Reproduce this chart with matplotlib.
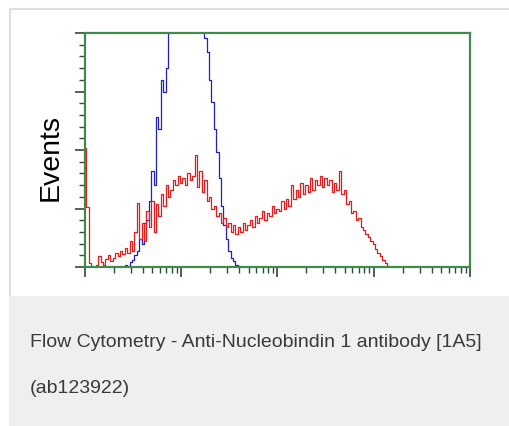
import numpy as np
import matplotlib
matplotlib.use("Agg")
import matplotlib.pyplot as plt
from matplotlib.patches import Rectangle
from matplotlib.ticker import LogLocator, MultipleLocator, NullFormatter

### data
# channels are 0.025 decade wide; *_first is log10 of the first channel centre
channel_width = 0.025

red_first = 0.0
red_events = [102, 51, 3, 1, 0, 2, 9, 4, 2, 7, 10, 5,
              8, 12, 9, 14, 11, 16, 12, 22, 14, 30, 55, 24,
              38, 22, 48, 34, 56, 30, 54, 44, 62, 52, 70, 60,
              66, 74, 70, 78, 72, 76, 70, 80, 74, 78, 96, 68,
              82, 64, 74, 56, 60, 50, 52, 44, 46, 38, 42, 34,
              38, 30, 36, 28, 34, 30, 38, 32, 36, 40, 34, 44,
              38, 42, 48, 40, 46, 44, 52, 46, 50, 48, 56, 50,
              58, 52, 70, 58, 66, 60, 72, 62, 70, 64, 76, 66,
              74, 70, 78, 68, 76, 70, 74, 64, 72, 66, 82, 62,
              66, 54, 56, 46, 48, 40, 42, 34, 32, 28, 26, 22,
              20, 15, 12, 9, 6, 3, 1, 0]

blue_first = 0.35
blue_events = [0, 1, 0, 2, 1, 4, 6, 10, 14, 24, 20, 38,
               40, 56, 82, 70, 128, 118, 160, 150, 170, 200, 240, 268,
               290, 305, 318, 322, 315, 308, 296, 280, 262, 248, 230, 215,
               196, 184, 160, 141, 118, 98, 76, 52, 36, 24, 14, 8,
               5, 2, 1, 0]

caption_lines = ["Flow Cytometry - Anti-Nucleobindin 1 antibody [1A5]", "(ab123922)"]

W, H = 510, 427
fig = plt.figure(figsize=(W / 100, H / 100), dpi=100)
fig.patch.set_facecolor("white")

# card frame and caption panel
fig.patches.append(Rectangle((10 / W, 0), 520 / W, (H - 10) / H, transform=fig.transFigure,
                             facecolor="white", edgecolor="#dedede", lw=1.5, zorder=-10))
fig.patches.append(Rectangle((9.2 / W, 0), 510 / W, 130 / H, transform=fig.transFigure,
                             facecolor="#eeefef", edgecolor="none", zorder=-9))

ax = fig.add_axes([85 / W, 1 - 268 / H, 385 / W, 234 / H])
ax.set_zorder(5)

red_x = 10 ** (red_first + channel_width * np.arange(len(red_events)))
blue_x = 10 ** (blue_first + channel_width * np.arange(len(blue_events)))
ax.step(blue_x, blue_events, where="mid", color="#2020c0", lw=0.9)
ax.step(red_x, red_events, where="mid", color="#e41c1c", lw=0.9)

ax.set_xscale("log")
ax.set_xlim(1, 1e4)
ax.set_ylim(0, 200)
ax.xaxis.set_major_locator(LogLocator(base=10, numticks=10))
ax.xaxis.set_minor_locator(LogLocator(base=10, subs=np.arange(2, 10), numticks=10))
ax.xaxis.set_major_formatter(NullFormatter())
ax.xaxis.set_minor_formatter(NullFormatter())
ax.yaxis.set_major_locator(MultipleLocator(50))
ax.yaxis.set_minor_locator(MultipleLocator(10))
ax.yaxis.set_major_formatter(NullFormatter())

ax.tick_params(which="major", direction="out", length=7.5, width=1.2, color="#2f4a38")
ax.tick_params(which="minor", direction="out", length=4, width=1.0, color="#2f4a38")
for sp in ax.spines.values():
    sp.set_color("#3f8c4a")
    sp.set_linewidth(1.6)

fig.text(51 / W, 1 - 158 / H, "Events", fontsize=20.5, family="Liberation Sans",
         rotation=90, ha="center", va="center", color="black")

fig.text(30 / W, 1 - 347 / H, caption_lines[0], fontsize=14, family="Liberation Sans",
         color="#3a3a3a", va="baseline")
fig.text(30 / W, 1 - 393 / H, caption_lines[1], fontsize=14, family="Liberation Sans",
         color="#3a3a3a", va="baseline")

fig.savefig("out.png", dpi=100)
